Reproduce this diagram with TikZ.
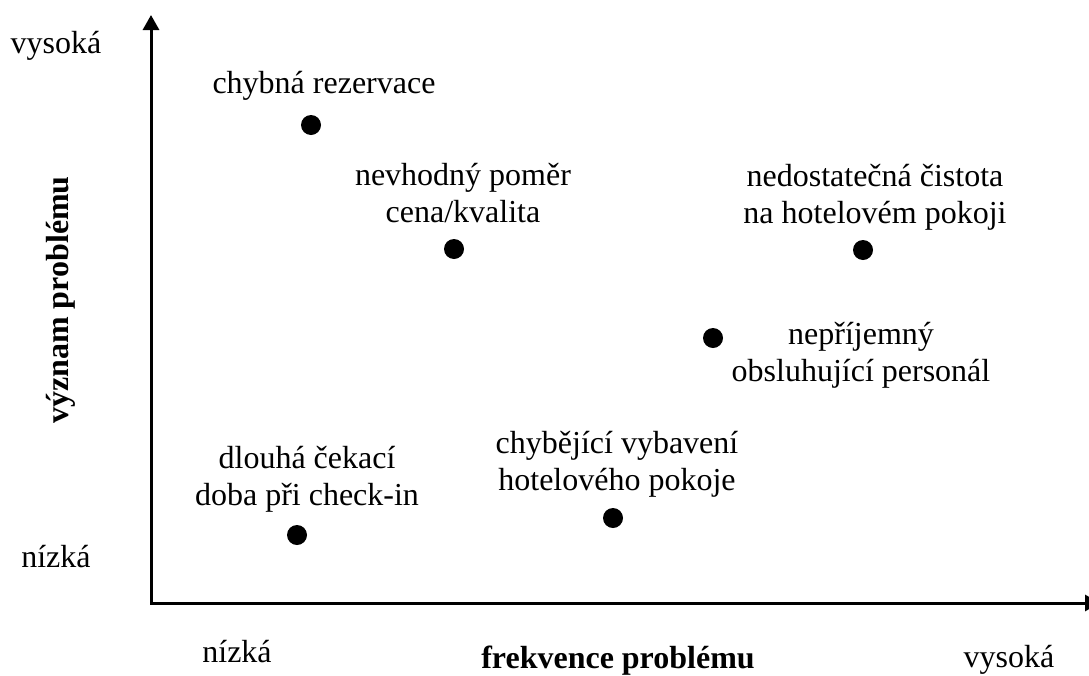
\documentclass[tikz,border=0pt]{standalone}
\usepackage{fontspec}
\setmainfont{Liberation Serif}
\usetikzlibrary{arrows.meta}
% two centred lines, baseline of the box = baseline of the first line
\newcommand\pairlines[2]{\vtop{\halign{\hfil##\hfil\cr #1\cr #2\cr}}}

\begin{document}
\begin{tikzpicture}[x=1pt,y=-1pt,
  every node/.style={inner sep=0pt, font=\fontsize{32}{37}\selectfont},
  lbl/.style={anchor=base},
  axtitle/.style={anchor=base, font=\fontsize{32}{37}\selectfont\bfseries},
  dot/.style={circle, fill=black, minimum size=20pt, inner sep=0pt},
  axis/.style={line width=3pt,
    {Triangle[length=15pt,width=16pt]}-{Triangle[length=15pt,width=16pt]}}]
\fill[white] (0,0) rectangle (1089,675);
\useasboundingbox (0,0) rectangle (1089,675);

% axes
\coordinate (O) at (151,603);
\coordinate (ytop) at (151,15);
\coordinate (xend) at (1100,603);
\begin{scope}
\clip (0,0) rectangle (1089,675);
\draw[axis] (ytop) -- (O) -- (xend);
\end{scope}

% axis labels
\node[lbl] (yhigh) at (56,53) {vysoká};
\node[lbl] (ylow) at (56,567) {nízká};
\node[lbl] (xlow) at (237,662) {nízká};
\node[lbl] (xhigh) at (1009,667) {vysoká};
\node[axtitle] (xtitle) at (618,668) {frekvence problému};
\node[axtitle, rotate=90] (ytitle) at (68,300) {význam problému};

% problems
\node[dot] (p1) at (311,125) {};
\node[lbl] (t1) at (324,93) {chybná rezervace};

\node[dot] (p2) at (454,249) {};
\node[lbl] (t2) at (463,185) {\pairlines{nevhodný poměr}{cena/kvalita}};

\node[dot] (p3) at (863,250) {};
\node[lbl] (t3) at (875,186) {\pairlines{nedostatečná čistota}{na hotelovém pokoji}};

\node[dot] (p4) at (713,338) {};
\node[lbl] (t4) at (861,344) {\pairlines{nepříjemný}{obsluhující personál}};

\node[dot] (p5) at (613,518) {};
\node[lbl] (t5) at (617,453) {\pairlines{chybějící vybavení}{hotelového pokoje}};

\node[dot] (p6) at (297,535) {};
\node[lbl] (t6) at (307,468) {\pairlines{dlouhá čekací}{doba při check-in}};
\end{tikzpicture}
\end{document}
